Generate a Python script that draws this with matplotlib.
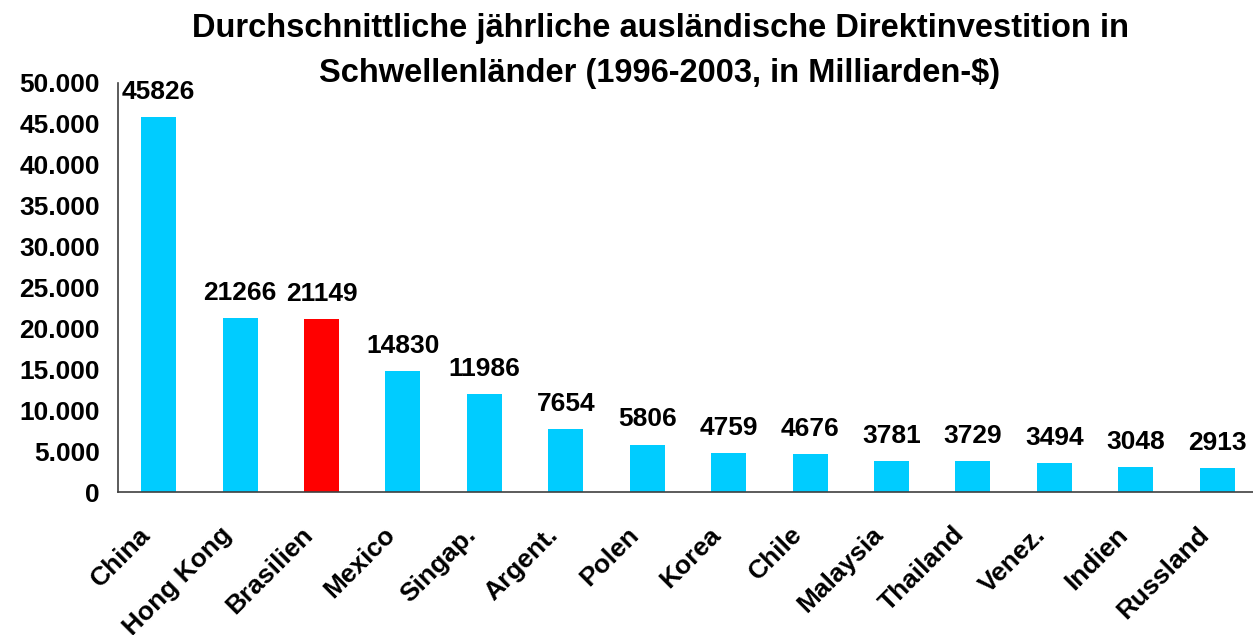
import matplotlib
matplotlib.use("Agg")
import matplotlib.pyplot as plt
import matplotlib.transforms as mtransforms

categories = ["China", "Hong Kong", "Brasilien", "Mexico", "Singap.", "Argent.", "Polen",
              "Korea", "Chile", "Malaysia", "Thailand", "Venez.", "Indien", "Russland"]
values = [45826, 21266, 21149, 14830, 11986, 7654, 5806, 4759, 4676, 3781, 3729, 3494, 3048, 2913]
highlight = "Brasilien"
yticks = [0, 5000, 10000, 15000, 20000, 25000, 30000, 35000, 40000, 45000, 50000]
ytick_labels = ["0", "5.000", "10.000", "15.000", "20.000", "25.000", "30.000",
                "35.000", "40.000", "45.000", "50.000"]
title1 = "Durchschnittliche jährliche ausländische Direktinvestition in"
title2 = "Schwellenländer (1996-2003, in Milliarden-$)"

plt.rcParams['font.family'] = ['Liberation Sans', 'DejaVu Sans']
plt.rcParams['font.weight'] = 'bold'

W, H = 1253, 635
fig = plt.figure(figsize=(W / 100, H / 100), dpi=100)
left, right, bottom, top = 118, 1253, 492, 83
ax = fig.add_axes([left / W, (H - bottom) / H, (right - left) / W, (bottom - top) / H])

colors = ["#FF0000" if c == highlight else "#00CCFF" for c in categories]
x = list(range(len(categories)))
ax.bar(x, values, width=0.43, color=colors, zorder=2)

for xi, v in zip(x, values):
    ax.annotate(str(v), (xi, v), xytext=(0, 13), textcoords="offset points",
                ha="center", va="baseline", fontsize=19, fontweight="bold")

ax.set_xlim(-0.5, 13.44)
ax.set_ylim(0, 50000)
ax.set_yticks(yticks)
ax.set_yticklabels(ytick_labels, fontsize=19, fontweight="bold")
ax.set_xticks(x)
ax.set_xticklabels(categories, fontsize=19, fontweight="bold", rotation=45,
                   ha="right", va="center", rotation_mode="anchor")
ax.tick_params(axis="y", length=0, pad=13)
ax.tick_params(axis="x", length=0, pad=28)
shift = mtransforms.ScaledTranslation(-12 / 100, 0, fig.dpi_scale_trans)
for lbl in ax.get_xticklabels():
    lbl.set_transform(lbl.get_transform() + shift)

for s in ["top", "right"]:
    ax.spines[s].set_visible(False)
for s in ["left", "bottom"]:
    ax.spines[s].set_color("#404040")
    ax.spines[s].set_linewidth(1.2)

fig.text(660 / W, 1 - 37 / H, title1, ha="center", va="baseline", fontsize=23.5, fontweight="bold")
fig.text(660 / W, 1 - 82 / H, title2, ha="center", va="baseline", fontsize=23.5, fontweight="bold")

fig.savefig("out.png", dpi=100)
